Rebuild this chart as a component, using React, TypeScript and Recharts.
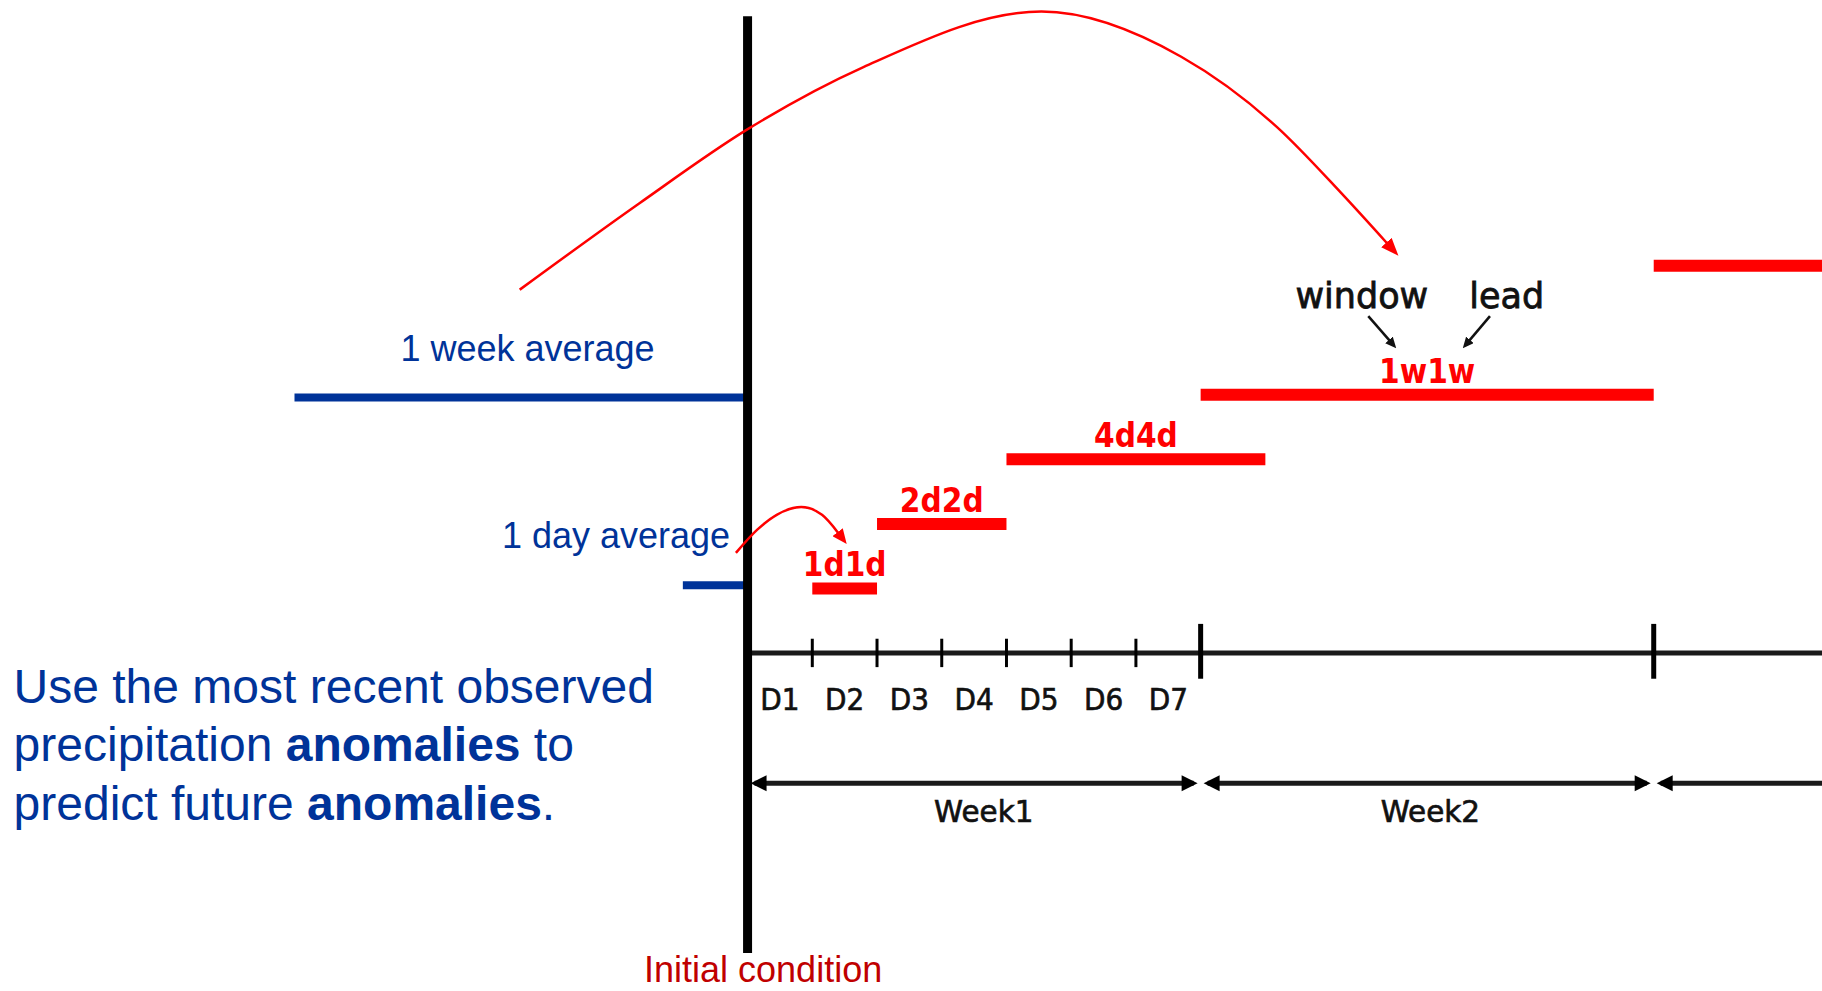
import React from 'react';
import { LineChart, Line, XAxis, YAxis, ReferenceLine, ReferenceDot } from 'recharts';

// x: days after the initial condition, y: row level above the time axis
const dayTicks = [1, 2, 3, 4, 5, 6];
const weekTicks = [7, 14];
const dayLabels = ['D1', 'D2', 'D3', 'D4', 'D5', 'D6', 'D7'];
const weekStarts = [0, 7, 14];
const weekEnds = [7, 14, 21];
const weekLabels = ['Week1', 'Week2'];
const weekLabelX = [3.65, 10.55];

// forecast targets (window + lead)
const windowNames = ['1d1d', '2d2d', '4d4d', '1w1w', '2w2w'];
const windowStart = [1, 2, 4, 7, 14];
const windowEnd = [2, 4, 8, 14, 28];
const windowLevel = [1, 2, 3, 4, 6];

// observed anomalies used as predictors
const obsNames = ['1 week average', '1 day average'];
const obsStart = [-7, -1];
const obsEnd = [0, 0];
const obsLevel = [3.96, 1.05];
const obsLabelX = [-3.4, -0.27];
const obsLabelY = [4.53, 1.63];

// curved arrows, points
const bigArcX = [-3.52, -1.67, -0.01, 1.79, 4.54, 6.7, 8.18, 9.17, 9.88];
const bigArcY = [5.63, 6.97, 8.11, 9.08, 9.94, 9.24, 8.15, 7.13, 6.35];
const smallArcX = [-0.18, 0.15, 0.45, 0.83, 1.15, 1.4];
const smallArcY = [1.55, 1.91, 2.14, 2.26, 2.14, 1.86];

// "window" / "lead" pointers
const pointerNames = ['window', 'lead'];
const pointerTextX = [9.49, 11.73];
const pointerTextY = 5.35;
const pointerFromX = [9.59, 11.47];
const pointerToX = [9.92, 11.15];
const pointerFromY = 5.22;
const pointerToY = 4.84;

const noteLines: [string, boolean][][] = [
  [['Use the most recent observed', false]],
  [['precipitation ', false], ['anomalies', true], [' to', false]],
  [['predict future ', false], ['anomalies', true], ['.', false]],
];

const W = 1822;
const H = 991;
const X_DOMAIN: [number, number] = [-11.55, 16.6];
const Y_DOMAIN: [number, number] = [-5.24, 10.12];

const BLUE = '#003399';
const RED = '#ff0000';
const DARK = '#1a1a1a';
const ARIAL = '"Liberation Sans", Arial, sans-serif';
const DEJA = '"DejaVu Sans", Verdana, sans-serif';

type TextOpts = {
  anchor?: 'start' | 'middle' | 'end';
  size: number;
  color: string;
  family?: string;
  weight?: string | number;
  sx?: number;
  dy?: number;
  thick?: number;
};

const textShape = (content: React.ReactNode, o: TextOpts) => (p: any) => (
  <text
    transform={`translate(${p.cx},${p.cy + (o.dy ?? 0)}) scale(${o.sx ?? 1},1)`}
    textAnchor={o.anchor ?? 'middle'}
    fontSize={o.size}
    fill={o.color}
    stroke={o.thick ? o.color : 'none'}
    strokeWidth={o.thick ?? 0}
    fontFamily={o.family ?? ARIAL}
    fontWeight={o.weight ?? 'normal'}
    style={{ whiteSpace: 'pre' }}
  >
    {content}
  </text>
);

const WeekArrow = (p: any) => {
  const { x1, x2, y1 } = p;
  const a = x1 + 3;
  const b = x2 - 3;
  const L = 16;
  const h = 8;
  return (
    <g>
      <line x1={a + 4} y1={y1} x2={b - 4} y2={y1} stroke={DARK} strokeWidth={5} />
      <polygon points={`${a},${y1} ${a + L},${y1 - h} ${a + L},${y1 + h}`} fill="#000" />
      <polygon points={`${b},${y1} ${b - L},${y1 - h} ${b - L},${y1 + h}`} fill="#000" />
    </g>
  );
};

const seg = (x1: number, x2: number, y1: number, y2: number) => [
  { x: x1, y: y1 },
  { x: x2, y: y2 },
];

export default function App() {
  const bigArc = bigArcX.map((x, i) => ({ x, y: bigArcY[i] }));
  const smallArc = smallArcX.map((x, i) => ({ x, y: smallArcY[i] }));

  return (
    <div style={{ position: 'absolute', left: 0, top: 0, background: '#fff' }}>
      <LineChart width={W} height={H} margin={{ top: 0, right: 0, bottom: 0, left: 0 }}>
        <defs>
          <marker id="headBig" markerUnits="userSpaceOnUse" markerWidth={18} markerHeight={14} refX={1} refY={7} orient="auto">
            <path d="M0,0 L18,7 L0,14 z" fill={RED} />
          </marker>
          <marker id="headSmall" markerUnits="userSpaceOnUse" markerWidth={15} markerHeight={13} refX={1} refY={6.5} orient="auto">
            <path d="M0,0 L15,6.5 L0,13 z" fill={RED} />
          </marker>
          <marker id="headBlack" markerUnits="userSpaceOnUse" markerWidth={11} markerHeight={10} refX={1} refY={5} orient="auto">
            <path d="M0,0 L11,5 L0,10 z" fill="#111" />
          </marker>
        </defs>
        <XAxis type="number" dataKey="x" domain={X_DOMAIN} allowDataOverflow hide />
        <YAxis type="number" dataKey="y" domain={Y_DOMAIN} allowDataOverflow hide />

        {/* observed averages */}
        {obsNames.map((n, i) => (
          <Line
            key={n}
            data={seg(obsStart[i], obsEnd[i], obsLevel[i], obsLevel[i])}
            dataKey="y"
            stroke={BLUE}
            strokeWidth={8}
            dot={false}
            activeDot={false}
            isAnimationActive={false}
          />
        ))}

        {/* forecast windows */}
        {windowNames.map((n, i) => (
          <Line
            key={n}
            data={seg(windowStart[i], windowEnd[i], windowLevel[i], windowLevel[i])}
            dataKey="y"
            stroke={RED}
            strokeWidth={12}
            dot={false}
            activeDot={false}
            isAnimationActive={false}
          />
        ))}

        {/* time axis */}
        <ReferenceLine segment={[{ x: 0, y: 0 }, { x: X_DOMAIN[1], y: 0 }]} stroke={DARK} strokeWidth={5} />
        {dayTicks.map((d) => (
          <ReferenceLine key={'t' + d} segment={[{ x: d, y: 0.22 }, { x: d, y: -0.22 }]} stroke="#000" strokeWidth={3} />
        ))}
        {weekTicks.map((d) => (
          <ReferenceLine key={'w' + d} segment={[{ x: d, y: 0.45 }, { x: d, y: -0.4 }]} stroke="#000" strokeWidth={5} />
        ))}
        {weekStarts.map((s, i) => (
          <ReferenceLine
            key={'wa' + s}
            segment={[{ x: s, y: -2.02 }, { x: weekEnds[i], y: -2.02 }]}
            ifOverflow="visible"
            shape={WeekArrow}
          />
        ))}

        {/* initial condition */}
        <ReferenceLine segment={[{ x: 0, y: -4.65 }, { x: 0, y: 9.87 }]} stroke="#000" strokeWidth={9} />

        {/* curved arrows */}
        <Line
          data={bigArc}
          dataKey="y"
          type="monotone"
          stroke={RED}
          strokeWidth={2.5}
          dot={false}
          activeDot={false}
          markerEnd="url(#headBig)"
          isAnimationActive={false}
        />
        <Line
          data={smallArc}
          dataKey="y"
          type="monotone"
          stroke={RED}
          strokeWidth={2.5}
          dot={false}
          activeDot={false}
          markerEnd="url(#headSmall)"
          isAnimationActive={false}
        />
        {pointerNames.map((n, i) => (
          <Line
            key={'p' + n}
            data={seg(pointerFromX[i], pointerToX[i], pointerFromY, pointerToY)}
            dataKey="y"
            stroke="#111"
            strokeWidth={2.5}
            dot={false}
            activeDot={false}
            markerEnd="url(#headBlack)"
            isAnimationActive={false}
          />
        ))}

        {/* texts */}
        {dayLabels.map((t, i) => (
          <ReferenceDot
            key={t}
            x={i + 0.5}
            y={-0.88}
            r={0}
            shape={textShape(t, { size: 31, color: '#111', family: DEJA, sx: 0.9, thick: 0.7 })}
          />
        ))}
        {weekLabels.map((t, i) => (
          <ReferenceDot
            key={t}
            x={weekLabelX[i]}
            y={-2.62}
            r={0}
            shape={textShape(t, { size: 31, color: '#111', family: DEJA, sx: 0.95, thick: 0.7 })}
          />
        ))}
        {windowNames.map((t, i) => (
          <ReferenceDot
            key={'l' + t}
            x={(windowStart[i] + windowEnd[i]) / 2}
            y={windowLevel[i]}
            r={0}
            shape={textShape(t, { size: 33, color: RED, family: DEJA, weight: 'bold', sx: 0.9, dy: -12 })}
          />
        ))}
        {pointerNames.map((t, i) => (
          <ReferenceDot
            key={'pt' + t}
            x={pointerTextX[i]}
            y={pointerTextY}
            r={0}
            shape={textShape(t, { size: 35, color: '#111', family: DEJA, thick: 0.8 })}
          />
        ))}
        {obsNames.map((t, i) => (
          <ReferenceDot
            key={'o' + t}
            x={obsLabelX[i]}
            y={obsLabelY[i]}
            r={0}
            shape={textShape(t, { size: 36, color: BLUE, anchor: i === 0 ? 'middle' : 'end' })}
          />
        ))}
        <ReferenceDot x={0.24} y={-5.1} r={0} shape={textShape('Initial condition', { size: 36, color: '#c00000' })} />
        {noteLines.map((line, i) => (
          <ReferenceDot
            key={'n' + i}
            x={-11.34}
            y={-0.775 - i * 0.905}
            r={0}
            shape={textShape(
              line.map(([s, b], j) => (
                <tspan key={j} fontWeight={b ? 'bold' : 'normal'}>
                  {s}
                </tspan>
              )),
              { size: 48, color: BLUE, anchor: 'start' }
            )}
          />
        ))}
      </LineChart>
    </div>
  );
}
